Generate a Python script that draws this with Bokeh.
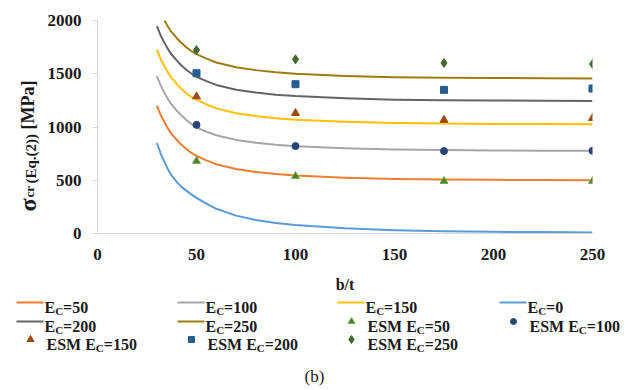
import math
from bokeh.plotting import figure
from bokeh.models import Range1d, FixedTicker
from bokeh.layouts import column, row
from bokeh.embed import file_html
from bokeh.resources import INLINE
from bokeh.core.properties import value

# ---- data -------------------------------------------------------------
bt = [30, 32, 35, 37, 40, 42, 45, 47, 50, 55, 60, 70, 80, 90, 100, 125, 150, 175, 200, 225, 250]
ec0 = [850, 745, 625, 555, 485, 445, 400, 372, 335, 280, 232, 168, 127, 99, 80, 50, 31, 22, 16, 13, 10]
ec50 = [1200, 1110, 1005, 945, 880, 840, 790, 762, 728, 686, 650, 605, 578, 558, 545, 524, 512, 507, 504, 502, 500]
ec100 = [1478, 1386, 1280, 1221, 1153, 1116, 1063, 1035, 994, 955, 922, 879, 852, 833, 820, 800, 788, 783, 780, 778, 776]
ec150 = [1726, 1635, 1530, 1470, 1405, 1365, 1315, 1287, 1258, 1212, 1175, 1130, 1103, 1083, 1068, 1049, 1037, 1032, 1029, 1027, 1025]
ec200 = [1948, 1855, 1750, 1690, 1625, 1585, 1535, 1507, 1472, 1431, 1395, 1350, 1323, 1303, 1290, 1269, 1257, 1252, 1249, 1247, 1245]
ec250 = [2156, 2066, 1961, 1901, 1836, 1796, 1746, 1718, 1684, 1642, 1606, 1561, 1534, 1514, 1500, 1480, 1468, 1463, 1460, 1458, 1456]

esm_bt = [50, 100, 175, 250]
esm50 = [680, 538, 492, 492]
esm100 = [1020, 821, 774, 776]
esm150 = [1286, 1130, 1066, 1082]
esm200 = [1505, 1402, 1349, 1361]
esm250 = [1722, 1635, 1602, 1592]

x_ticks = [0, 50, 100, 150, 200, 250]
y_ticks = [0, 500, 1000, 1500, 2000]

FONT = "Liberation Serif"
SERIF = value(FONT)
AXIS_GREY = "#D9D9D9"
INK = "#1a1a1a"

curves = [
    ("50", ec50, "#ED7D31"),
    ("100", ec100, "#A5A5A5"),
    ("150", ec150, "#FFC000"),
    ("0", ec0, "#5B9BD5"),
    ("200", ec200, "#646464"),
    ("250", ec250, "#9E7C0C"),
]
points = [
    ("50", esm50, "triangle", "#4E7F2E", "#70AD47", 8),
    ("100", esm100, "circle", "#264478", "#264478", 7),
    ("150", esm150, "triangle", "#9E480E", "#9E480E", 8),
    ("200", esm200, "square", "#255E91", "#255E91", 7),
    ("250", esm250, "diamond", "#43682B", "#43682B", 9),
]

# ---- page geometry -----------------------------------------------------
TITLE_W = 41            # strip holding the vertical y title
MAIN_H = 272            # chart height; the caption/legend strip sits below it
FRAME_TOP, FRAME_BOT = 20, 233
FRAME_L, FRAME_R = 97, 592

# ---- main chart --------------------------------------------------------
p = figure(width=628 - TITLE_W, height=MAIN_H, x_range=Range1d(0, 250), y_range=Range1d(0, 2000),
           output_backend="svg", toolbar_location=None,
           min_border_left=FRAME_L - TITLE_W, min_border_right=628 - FRAME_R,
           min_border_top=FRAME_TOP, min_border_bottom=MAIN_H - FRAME_BOT)
p.outline_line_color = None
p.grid.visible = False

for name, ys, col in curves:
    p.line(bt, ys, line_color=col, line_width=2, line_join="round")
for name, ys, mk, fill, line, size in points:
    p.scatter(esm_bt, ys, marker=mk, size=size, fill_color=fill, line_color=line, line_width=1)

for ax in (p.xaxis[0], p.yaxis[0]):
    ax.axis_line_color = AXIS_GREY
    ax.major_tick_line_color = AXIS_GREY
    ax.minor_tick_line_color = None
    ax.major_tick_in = 0
    ax.major_label_text_font = FONT
    ax.major_label_text_font_style = "bold"
    ax.major_label_text_font_size = "17px"
    ax.major_label_text_color = INK

p.xaxis.ticker = FixedTicker(ticks=x_ticks)
p.yaxis.ticker = FixedTicker(ticks=y_ticks)
p.xaxis.major_tick_out = 0
p.yaxis.major_tick_out = 5
p.xaxis.major_label_standoff = 15
p.yaxis.major_label_standoff = 11

# ---- vertical y title strip (pixel coordinates) ------------------------
yt = figure(width=TITLE_W, height=MAIN_H, x_range=Range1d(0, TITLE_W),
            y_range=Range1d(0, FRAME_BOT - FRAME_TOP),
            output_backend="svg", toolbar_location=None, min_border=0,
            x_axis_location=None, y_axis_location=None)
yt.outline_line_color = None
yt.grid.visible = False
for txt, fs, x, y in [("σ", 24, 27.0, 211), ("cr", 13, 28.5, 197),
                      ("(Eq.(2))", 15, 30.0, 183), ("[MPa]", 18, 27.5, 129)]:
    yt.text(x=[x], y=[FRAME_BOT - y], text=[txt], angle=math.pi / 2,
            text_font=SERIF, text_font_style="bold", text_font_size=f"{fs}px",
            text_align="left", text_baseline="alphabetic", text_color=INK)

# ---- x title, legend and caption strip (pixel coordinates) -------------
LH = 390 - MAIN_H
leg = figure(width=628, height=LH, x_range=Range1d(0, 628), y_range=Range1d(0, LH),
             output_backend="svg", toolbar_location=None, min_border=0,
             x_axis_location=None, y_axis_location=None)
leg.outline_line_color = None
leg.grid.visible = False

def ly(py):
    return 390 - py

# x-axis title
leg.text(x=[(FRAME_L + FRAME_R) / 2], y=[ly(284)], text=["b/t"], text_font=SERIF,
         text_font_style="bold", text_font_size="16px", text_align="center",
         text_baseline="middle", text_color=INK)

TB = {"E": 667, "S": 556, "M": 944, "C": 722, " ": 250, "=": 570}
def tw(s, fs):
    return sum(TB.get(c, 500) for c in s) * fs / 1000.0

def put(x, y, t, fs, bold=True):
    leg.text(x=[x], y=[ly(y)], text=[t], text_font=SERIF,
             text_font_style="bold" if bold else "normal", text_font_size=f"{fs}px",
             text_baseline="alphabetic", text_align="left", text_color=INK)

def ec_text(x0, yc, num, esm=False):
    fs, sub = 16, 11
    base = yc + 4.5
    x = x0
    if esm:
        put(x, base, "ESM", fs)
        x += tw("ESM ", fs)
    put(x, base, "E", fs)
    x += tw("E", fs)
    put(x, base + 4, "C", sub)
    x += tw("C", sub)
    put(x, base, "=" + num, fs)

cols = [16, 177, 337, 499]
rows = [302, 321, 339]
line_slots = [(0, 0), (0, 1), (0, 2), (0, 3), (1, 0), (1, 1)]
for (r, c), (name, ys, col) in zip(line_slots, curves):
    x0, y0 = cols[c], rows[r]
    leg.line([x0, x0 + 27], [ly(y0)] * 2, line_color=col, line_width=2)
    ec_text(x0 + 28, y0, name)

pt_slots = [(1, 2), (1, 3), (2, 0), (2, 1), (2, 2)]
for (r, c), (name, ys, mk, fill, line, size) in zip(pt_slots, points):
    x0, y0 = cols[c], rows[r]
    leg.scatter([x0 + 14], [ly(y0)], marker=mk, size=size - 1, fill_color=fill, line_color=line)
    ec_text(x0 + 30, y0, name, esm=True)

leg.text(x=[314], y=[ly(376)], text=["(b)"], text_font=SERIF, text_font_size="17px",
         text_align="center", text_baseline="middle", text_color=INK)

layout = column(row(yt, p, spacing=0), leg, spacing=0)
open("out.html", "w").write(file_html(layout, INLINE))
